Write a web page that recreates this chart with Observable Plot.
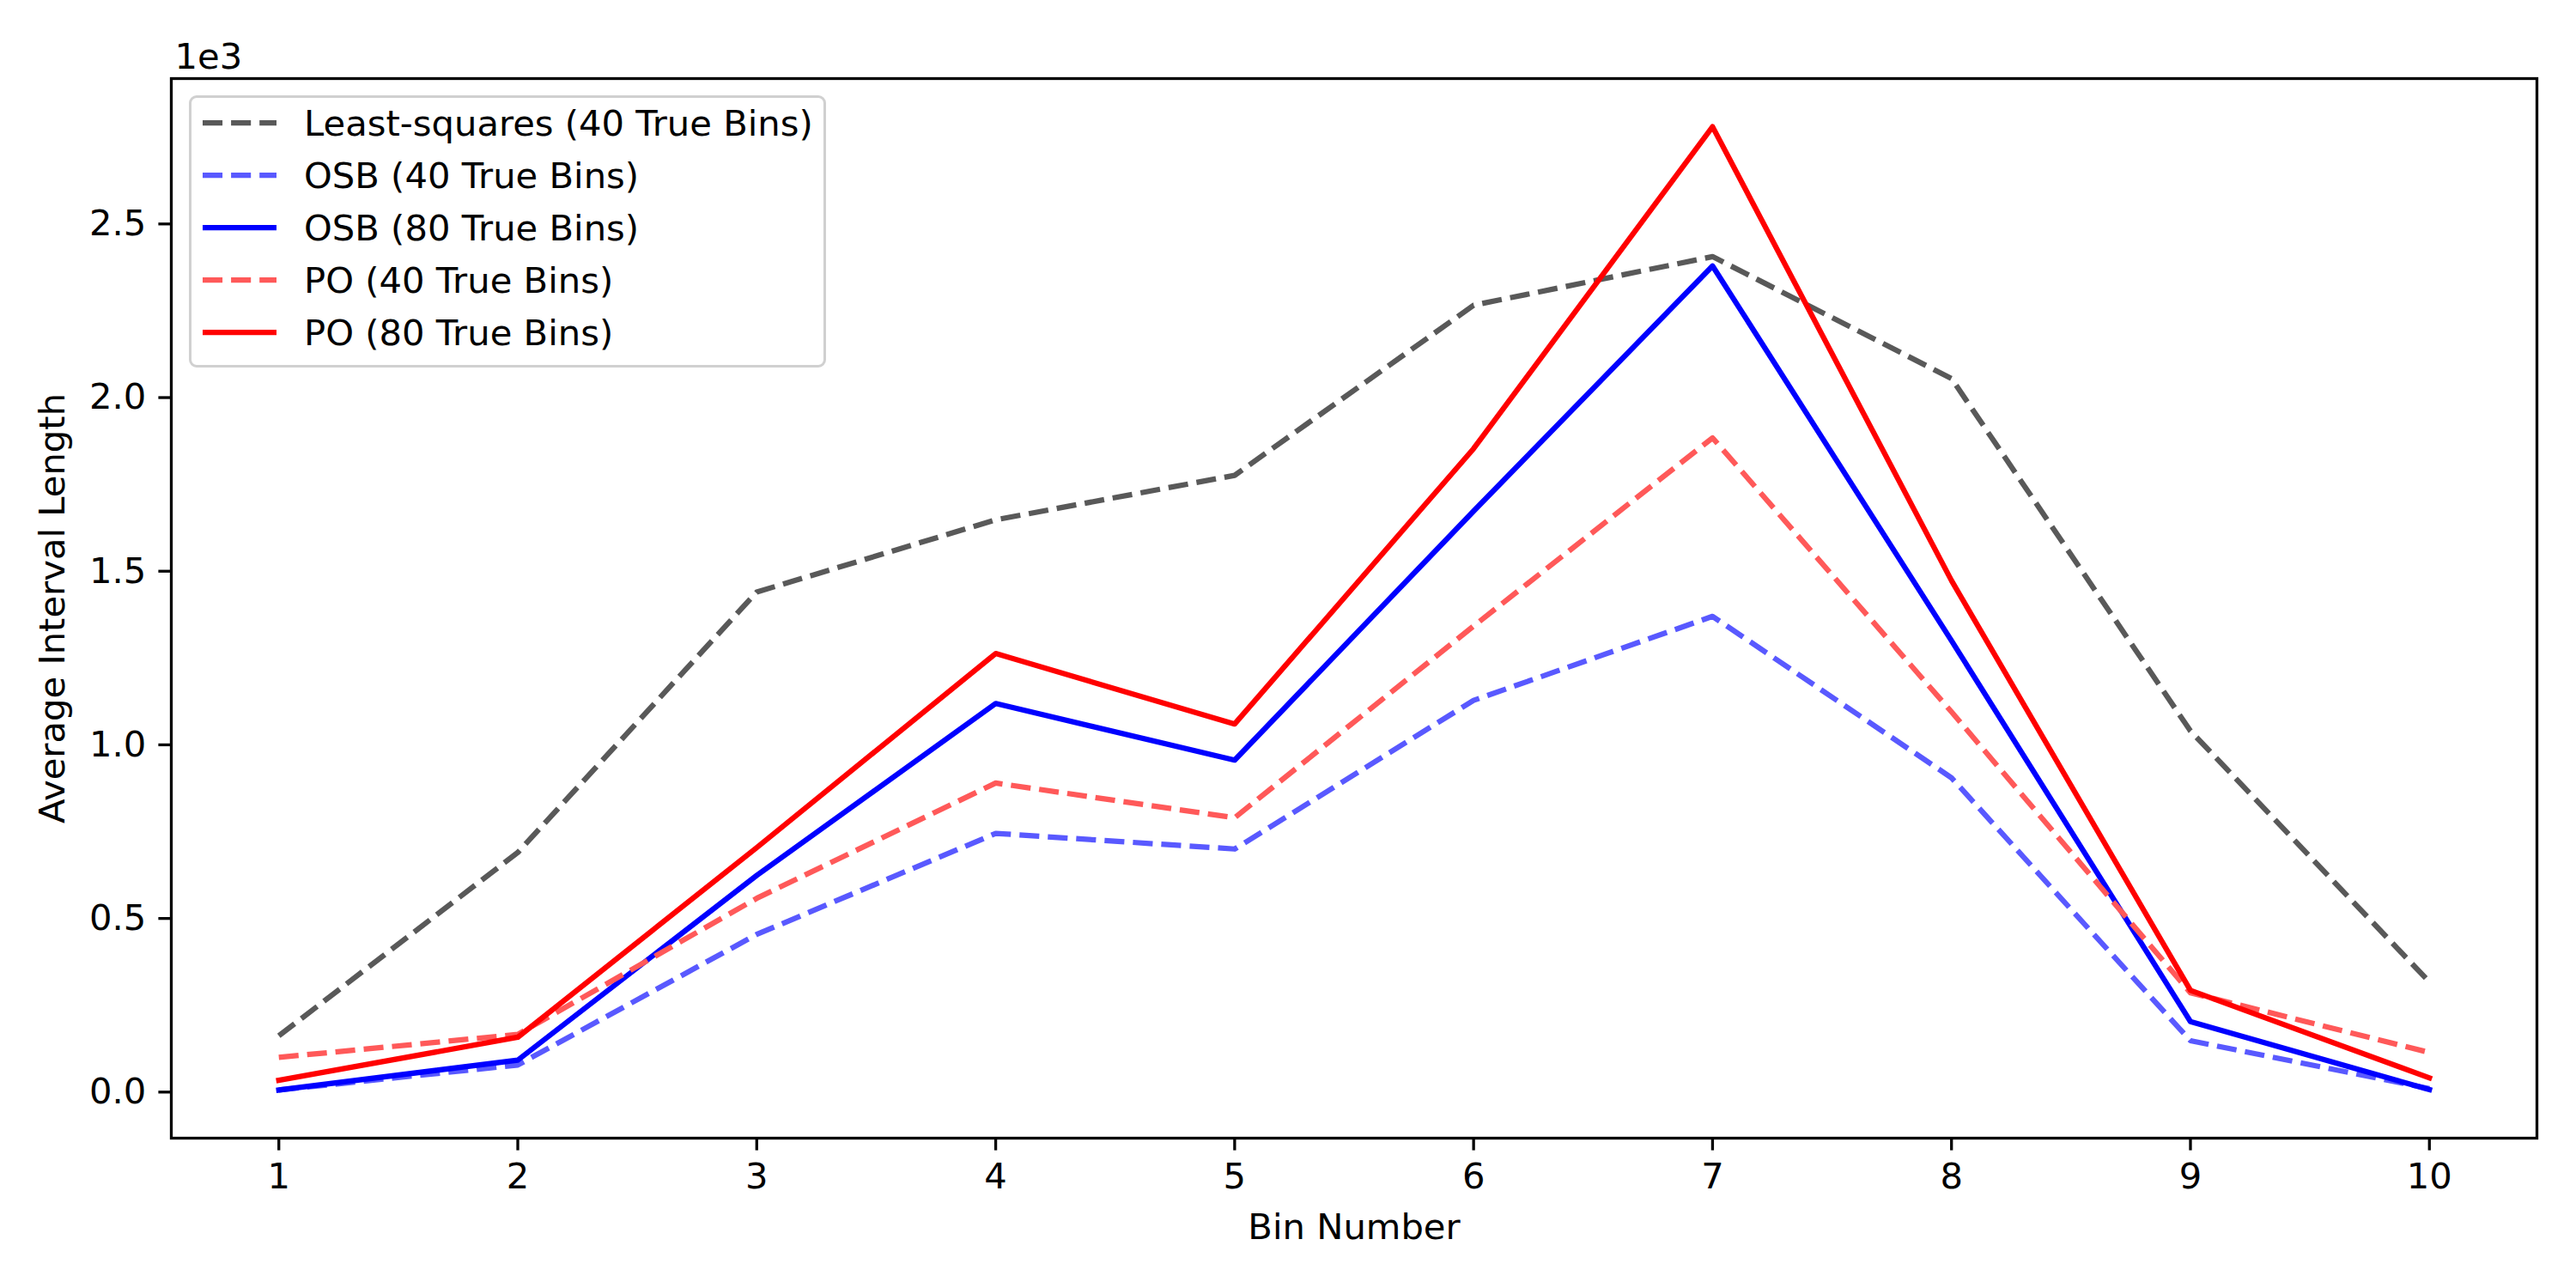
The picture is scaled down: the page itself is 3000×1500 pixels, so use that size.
<!DOCTYPE html>
<html>
<head>
<meta charset="utf-8">
<script src="https://cdn.jsdelivr.net/npm/d3@7"></script>
<script src="https://cdn.jsdelivr.net/npm/@observablehq/plot@0.6"></script>
<style>
  html, body { margin: 0; padding: 0; background: white; }
  #wrap { position: relative; width: 3000px; height: 1500px; background: white; }
  #legend { position: absolute; left: 220px; top: 111px; width: 742px; height: 317px;
            box-sizing: border-box; border: 3.3px solid #d0d0d0; border-radius: 9px;
            background: rgba(255,255,255,0.8); }
  #legend svg { position: absolute; left: -3.3px; top: -3.3px; overflow: visible; }
</style>
</head>
<body>
<div id="wrap"></div>
<script>
// ---- data (values in units; axis shows ×1e3) ----
const bins = [1, 2, 3, 4, 5, 6, 7, 8, 9, 10];
const leastSquares40 = [162, 690, 1440, 1648, 1776, 2266, 2406, 2055, 1040, 317];
const osb40 = [6, 78, 454, 745, 700, 1128, 1370, 905, 148, 10];
const osb80 = [6, 92, 624, 1119, 956, 1673, 2379, 1300, 203, 7];
const po40 = [100, 166, 558, 890, 790, 1342, 1884, 1095, 286, 114];
const po80 = [34, 158, 704, 1263, 1060, 1853, 2780, 1473, 293, 41];

const seriesNames = ["Least-squares (40 True Bins)", "OSB (40 True Bins)", "OSB (80 True Bins)", "PO (40 True Bins)", "PO (80 True Bins)"];
const seriesValues = [leastSquares40, osb40, osb80, po40, po80];
const seriesColors = ["#595959", "#5959ff", "#0000ff", "#ff5959", "#ff0000"];
const seriesDashed = [true, true, false, true, false];
const yTicks = [0, 500, 1000, 1500, 2000, 2500];

// ---- build table ----
const rows = [];
seriesNames.forEach((name, i) => {
  bins.forEach((b, j) => rows.push({series: name, idx: i, bin: b, value: seriesValues[i][j]}));
});

// matplotlib-like 5% margins
const [xmin, xmax] = d3.extent(bins);
const xpad = (xmax - xmin) * 0.05;
const allVals = seriesValues.flat();
const [ymin, ymax] = d3.extent(allVals);
const ypad = (ymax - ymin) * 0.05;

const FS = 41.7;
const LW = 6.25;
const dash = "23.1,10";

const lineMarks = seriesNames.map((name, i) =>
  Plot.line(rows.filter(r => r.idx === i), {
    x: "bin", y: "value",
    stroke: seriesColors[i],
    strokeWidth: LW,
    strokeDasharray: seriesDashed[i] ? dash : null,
    strokeLinecap: seriesDashed[i] ? "butt" : "square",
    strokeLinejoin: "round"
  })
);

const chart = Plot.plot({
  width: 3000,
  height: 1500,
  marginLeft: 199,
  marginRight: 46,
  marginTop: 91,
  marginBottom: 175,
  style: {fontFamily: "'DejaVu Sans', sans-serif", fontSize: FS + "px", background: "white", color: "black", overflow: "visible"},
  x: {domain: [xmin - xpad, xmax + xpad]},
  y: {domain: [ymin - ypad, ymax + ypad]},
  marks: [
    Plot.axisX({ticks: bins, tickFormat: d => String(d), tickSize: 14.6, tickPadding: 14.6, strokeWidth: 3.3,
                label: "Bin Number", labelAnchor: "center", labelArrow: "none", labelOffset: 117}),
    Plot.axisY({ticks: yTicks, tickFormat: d => (d / 1000).toFixed(1), tickSize: 14.6, tickPadding: 14.6, strokeWidth: 3.3,
                label: "Average Interval Length", labelAnchor: "center", labelArrow: "none", labelOffset: 154}),
    ...lineMarks,
    Plot.frame({stroke: "black", strokeWidth: 3.3}),
    Plot.text(["1e3"], {text: d => d, frameAnchor: "top-left", textAnchor: "start", lineAnchor: "bottom", dx: 4, dy: -12, fontSize: FS})
  ]
});
document.getElementById("wrap").appendChild(chart);

// ---- legend (overlay, inside the axes like matplotlib upper-left) ----
const legend = document.createElement("div");
legend.id = "legend";
const ns = "http://www.w3.org/2000/svg";
const lsvg = document.createElementNS(ns, "svg");
lsvg.setAttribute("width", 742);
lsvg.setAttribute("height", 317);
seriesNames.forEach((name, i) => {
  const cy = 32 + i * 61;
  const ln = document.createElementNS(ns, "line");
  ln.setAttribute("x1", 16); ln.setAttribute("x2", 102);
  ln.setAttribute("y1", cy); ln.setAttribute("y2", cy);
  ln.setAttribute("stroke", seriesColors[i]);
  ln.setAttribute("stroke-width", LW);
  if (seriesDashed[i]) ln.setAttribute("stroke-dasharray", dash);
  lsvg.appendChild(ln);
  const tx = document.createElementNS(ns, "text");
  tx.setAttribute("x", 134);
  tx.setAttribute("y", cy + 15);
  tx.setAttribute("font-family", "'DejaVu Sans', sans-serif");
  tx.setAttribute("font-size", FS);
  tx.setAttribute("fill", "black");
  tx.textContent = name;
  lsvg.appendChild(tx);
});
legend.appendChild(lsvg);
document.getElementById("wrap").appendChild(legend);
</script>
</body>
</html>
